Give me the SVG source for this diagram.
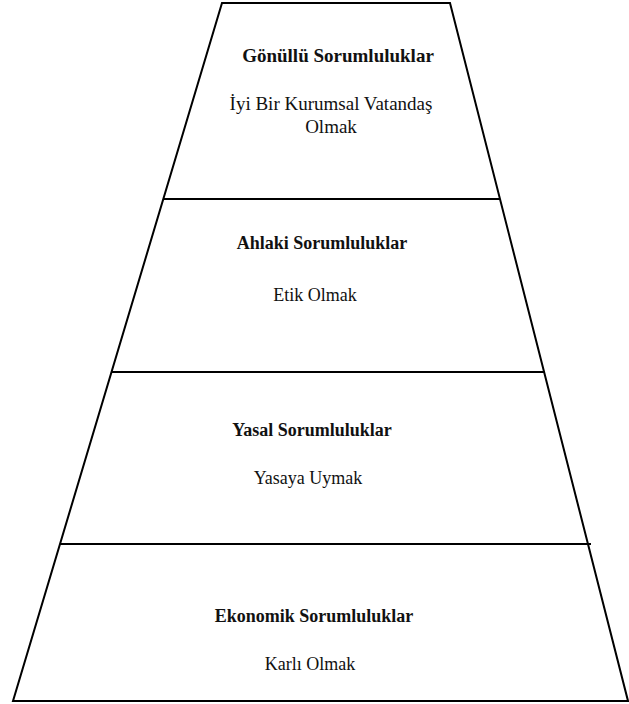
<svg xmlns="http://www.w3.org/2000/svg" width="629" height="704" viewBox="0 0 629 704">
<style>
.edge{stroke:#000;stroke-width:2;fill:none;stroke-linejoin:miter}
.t{font-family:'Liberation Serif','Times New Roman',serif;font-size:18px;fill:#111;text-anchor:middle}
.top{font-size:19px}
.b{font-weight:bold}
</style>
<rect width="629" height="704" fill="#fff"/>
<g id="connectors">
<polygon class="edge" points="222,3 450,3 628,701 13,701"/>
<line class="edge" x1="163" y1="199" x2="500" y2="199"/>
<line class="edge" x1="111" y1="372" x2="545" y2="372"/>
<line class="edge" x1="60" y1="544" x2="591" y2="544"/>
</g>
<g id="gonullu">
<text class="t top b" x="338" y="62">Gönüllü Sorumluluklar</text>
<text class="t top" x="331" y="110">İyi Bir Kurumsal Vatandaş</text>
<text class="t top" x="331" y="133">Olmak</text>
</g>
<g id="ahlaki">
<text class="t b" x="322" y="249">Ahlaki Sorumluluklar</text>
<text class="t" x="315" y="301">Etik Olmak</text>
</g>
<g id="yasal">
<text class="t b" x="312" y="436">Yasal Sorumluluklar</text>
<text class="t" x="308" y="484">Yasaya Uymak</text>
</g>
<g id="ekonomik">
<text class="t b" x="314" y="622">Ekonomik Sorumluluklar</text>
<text class="t" x="310" y="670">Karlı Olmak</text>
</g>
</svg>
